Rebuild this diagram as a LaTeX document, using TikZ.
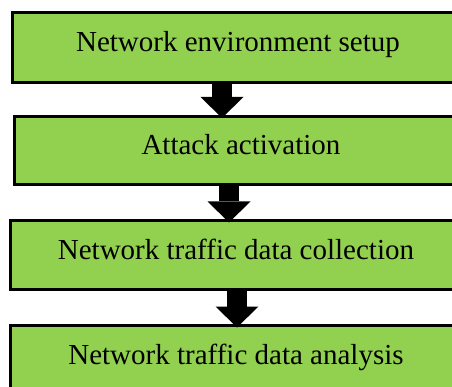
\documentclass[tikz,border=0pt]{standalone}
\usepackage{fontspec}
\setmainfont{Liberation Serif}
\usetikzlibrary{arrows.meta}
\definecolor{boxgreen}{HTML}{92D050}
\tikzset{
  stepbox/.style={draw=black, line width=3pt, fill=boxgreen, rectangle, outer sep=0pt,
    inner sep=0pt, font=\fontsize{29}{34}\selectfont, text height=15pt, text depth=6pt},
  blockarrow/.style={line width=20pt, draw=black,
    -{Triangle[width=43pt,length=21pt,line width=0pt]}}
}
\begin{document}
\begin{tikzpicture}[x=1pt,y=-1pt]
\useasboundingbox (0,0) rectangle (452,387);
\clip (0,0) rectangle (452,387);
\node[stepbox, minimum width=451.5pt, minimum height=70pt] (s1) at (238,47.5) {Network environment setup};
\node[stepbox, minimum width=453pt, minimum height=68pt] (s2) at (241,150.5) {Attack activation};
\node[stepbox, minimum width=451pt, minimum height=69pt] (s3) at (236,255) {Network traffic data collection};
\node[stepbox, minimum width=451pt, minimum height=69pt] (s4) at (236,360) {Network traffic data analysis};
\draw[blockarrow] ([xshift=-16pt]s1.south) -- ([xshift=-19pt,yshift=-1.5pt]s2.north);
\draw[blockarrow] ([xshift=-12pt]s2.south) -- ([xshift=-7pt,yshift=-2pt]s3.north);
\draw[blockarrow] ([xshift=1pt]s3.south) -- ([xshift=1pt,yshift=-2pt]s4.north);
\end{tikzpicture}
\end{document}
